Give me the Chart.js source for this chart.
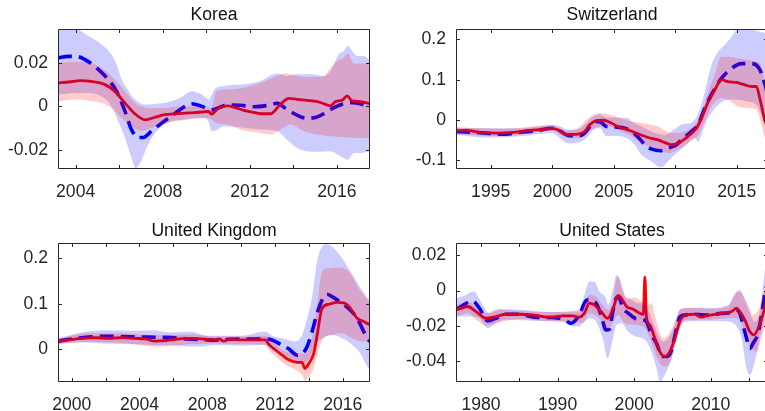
<!DOCTYPE html>
<html>
<head>
<meta charset="utf-8">
<script src="https://cdn.jsdelivr.net/npm/chart.js@4/dist/chart.umd.min.js"></script>
<style>
  html, body { margin: 0; padding: 0; background: #fff; }
  #page { position: relative; width: 765px; height: 411px; overflow: hidden; background: #fff; }
  #page canvas { position: absolute; }
</style>
</head>
<body>
<div id="page">
  <canvas id="korea" width="380" height="205" style="left:0px;top:0px;width:380px;height:205px"></canvas>
  <canvas id="swiss" width="395" height="205" style="left:385px;top:0px;width:395px;height:205px"></canvas>
  <canvas id="uk" width="380" height="201" style="left:0px;top:210px;width:380px;height:201px"></canvas>
  <canvas id="us" width="395" height="201" style="left:385px;top:210px;width:395px;height:201px"></canvas>
</div>
<script>
// ---------- Korea ----------
const koreaFitted = [[2003.19,0.0108],[2003.7,0.0112],[2004.2,0.0118],[2004.7,0.0115],[2005.35,0.0100],[2005.8,0.0069],[2006.27,0.0015],[2006.73,-0.0035],[2007.2,-0.0062],[2007.65,-0.0050],[2008.1,-0.0038],[2008.56,-0.0035],[2009.2,-0.0030],[2009.8,-0.0026],[2010.1,-0.0023],[2010.25,-0.0036],[2010.5,-0.0014],[2010.96,0.0002],[2011.34,-0.0006],[2011.72,-0.0018],[2012.1,-0.0026],[2012.5,-0.0034],[2012.95,-0.0034],[2013.4,0.0009],[2013.8,0.0037],[2014.17,0.0032],[2014.63,0.0028],[2015.1,0.0022],[2015.48,0.0009],[2015.7,0.0002],[2015.94,0.0022],[2016.24,0.0028],[2016.47,0.0048],[2016.7,0.0025],[2017.08,0.0022],[2017.52,0.0012]];
const koreaFittedUpper = [[2003.19,0.0200],[2004.0,0.0205],[2004.58,0.0200],[2005.19,0.0177],[2005.8,0.0123],[2006.27,0.0069],[2006.73,0.0015],[2007.19,-0.0005],[2007.64,-0.0008],[2008.26,-0.0005],[2008.87,0.0],[2009.48,0.0],[2010.1,-0.0005],[2010.25,-0.0008],[2010.45,0.0068],[2010.96,0.0078],[2011.72,0.0086],[2012.49,0.0109],[2013.26,0.0140],[2013.64,0.0151],[2014.17,0.0140],[2014.79,0.0135],[2015.4,0.0140],[2015.71,0.0178],[2016.01,0.0209],[2016.32,0.0225],[2016.5,0.0243],[2016.78,0.0197],[2017.24,0.0197],[2017.52,0.0186]];
const koreaFittedLower = [[2003.19,0.0023],[2004.0,0.0031],[2004.58,0.0026],[2005.19,0.0015],[2005.65,-0.0008],[2006.11,-0.0054],[2006.57,-0.0092],[2007.03,-0.0115],[2007.49,-0.0100],[2007.95,-0.0085],[2008.56,-0.0069],[2009.17,-0.0062],[2009.79,-0.0054],[2010.25,-0.0060],[2010.4,-0.0075],[2010.96,-0.0083],[2011.72,-0.0111],[2012.49,-0.0122],[2012.95,-0.0129],[2013.41,-0.0106],[2013.87,-0.0083],[2014.48,-0.0114],[2015.1,-0.0129],[2015.71,-0.0137],[2016.32,-0.0142],[2016.93,-0.0145],[2017.52,-0.0145]];
const koreaModel = [[2003.19,0.0223],[2003.66,0.0230],[2004.0,0.0230],[2004.43,0.0215],[2004.96,0.0177],[2005.5,0.0123],[2005.88,0.0069],[2006.27,-0.0023],[2006.57,-0.0108],[2006.88,-0.0143],[2007.1,-0.0143],[2007.5,-0.0112],[2007.95,-0.0077],[2008.49,-0.0038],[2009.02,0.0],[2009.33,0.0012],[2009.8,0.0],[2010.25,-0.0016],[2010.96,0.0006],[2011.57,0.0005],[2012.18,-0.0002],[2012.87,0.0005],[2013.26,0.0014],[2013.64,-0.0009],[2014.1,-0.0037],[2014.63,-0.0055],[2015.09,-0.0049],[2015.48,-0.0029],[2015.86,-0.0006],[2016.32,0.0012],[2016.78,0.0017],[2017.16,0.0009],[2017.52,-0.0006]];
const koreaModelUpper = [[2003.19,0.0354],[2004.0,0.0354],[2004.58,0.0323],[2005.19,0.0285],[2005.65,0.0238],[2005.88,0.0192],[2006.11,0.0123],[2006.34,0.0085],[2006.73,0.0031],[2007.19,0.0008],[2007.64,0.0011],[2008.26,0.0020],[2008.87,0.0042],[2009.33,0.0069],[2009.79,0.0054],[2010.1,0.0031],[2010.4,0.0080],[2010.8,0.0094],[2011.72,0.0102],[2012.49,0.0117],[2013.26,0.0151],[2013.7,0.0140],[2014.17,0.0148],[2014.8,0.0148],[2015.4,0.0140],[2015.71,0.0163],[2016.09,0.0240],[2016.32,0.0255],[2016.5,0.0278],[2016.7,0.0255],[2016.93,0.0232],[2017.24,0.0232],[2017.52,0.0210]];
const koreaModelLower = [[2003.19,0.0054],[2004.0,0.0062],[2004.58,0.0062],[2005.19,0.0046],[2005.65,0.0],[2005.96,-0.0069],[2006.27,-0.0146],[2006.57,-0.0238],[2006.76,-0.0285],[2006.96,-0.0262],[2007.19,-0.0208],[2007.49,-0.0146],[2007.95,-0.0092],[2008.41,-0.0069],[2008.87,-0.0062],[2009.48,-0.0054],[2009.94,-0.0054],[2010.1,-0.0070],[2010.25,-0.0115],[2010.45,-0.0110],[2010.8,-0.0091],[2011.72,-0.0098],[2012.5,-0.0106],[2013.26,-0.0114],[2013.7,-0.0152],[2014.17,-0.0191],[2014.63,-0.0206],[2015.25,-0.0209],[2015.7,-0.0206],[2016.17,-0.0229],[2016.5,-0.0245],[2016.78,-0.0214],[2017.08,-0.0214],[2017.52,-0.0206]];
const koreaXTicks = [2004, 2006, 2008, 2010, 2012, 2014, 2016];
const koreaXLabels = [2004, 2008, 2012, 2016];
const koreaYTicks = [-0.02, 0, 0.02];

// ---------- Switzerland ----------
const swissFitted = [[1992.18,-0.027],[1993.02,-0.026],[1994.11,-0.031],[1995.46,-0.033],[1996.82,-0.031],[1998.17,-0.026],[1999.25,-0.024],[2000.0,-0.021],[2000.47,-0.025],[2001.15,-0.036],[2001.83,-0.036],[2002.64,-0.029],[2003.05,-0.012],[2003.59,-0.002],[2004.13,-0.001],[2004.54,-0.004],[2005.35,-0.0165],[2006.17,-0.025],[2006.98,-0.035],[2007.79,-0.044],[2008.6,-0.050],[2009.28,-0.058],[2009.69,-0.062],[2010.23,-0.058],[2011.04,-0.041],[2011.72,-0.021],[2012.13,0.004],[2012.67,0.044],[2013.21,0.074],[2013.75,0.100],[2014.3,0.095],[2014.97,0.093],[2015.65,0.087],[2016.19,0.083],[2016.6,0.083],[2016.87,0.054],[2017.14,0.017],[2017.3,-0.004],[2017.54,-0.020]];
const swissFittedUpper = [[1992.18,-0.019],[1996.0,-0.022],[1999.99,-0.014],[2001.15,-0.027],[2002.24,-0.017],[2002.91,0.004],[2003.86,0.017],[2004.81,0.012],[2005.89,0.0],[2007.25,-0.008],[2008.6,-0.0165],[2009.69,-0.033],[2010.77,-0.029],[2011.59,-0.012],[2012.13,0.0165],[2012.67,0.070],[2013.21,0.112],[2013.75,0.157],[2014.3,0.157],[2015.11,0.153],[2015.92,0.149],[2016.46,0.145],[2016.87,0.141],[2017.3,0.095],[2017.54,0.060]];
const swissFittedLower = [[1992.18,-0.036],[1996.0,-0.041],[1999.99,-0.027],[2001.15,-0.044],[2002.24,-0.045],[2003.05,-0.027],[2003.86,-0.017],[2004.54,-0.0165],[2005.62,-0.029],[2006.71,-0.045],[2007.52,-0.062],[2008.6,-0.074],[2009.42,-0.083],[2010.23,-0.074],[2011.04,-0.058],[2011.86,-0.037],[2012.4,-0.004],[2012.94,0.033],[2013.75,0.054],[2014.3,0.050],[2015.11,0.033],[2015.92,0.029],[2016.6,0.025],[2017.01,-0.012],[2017.3,-0.045],[2017.54,-0.070]];
const swissModel = [[1992.18,-0.029],[1993.56,-0.031],[1994.65,-0.033],[1996.0,-0.036],[1997.36,-0.031],[1998.71,-0.027],[1999.99,-0.021],[2000.61,-0.027],[2001.29,-0.039],[2002.1,-0.040],[2002.64,-0.033],[2003.18,-0.012],[2003.59,-0.004],[2004.0,-0.007],[2004.4,-0.0165],[2005.35,-0.018],[2006.44,-0.028],[2007.1,-0.047],[2007.6,-0.064],[2008.1,-0.073],[2008.8,-0.077],[2009.4,-0.070],[2010.0,-0.064],[2010.5,-0.050],[2011.31,-0.029],[2011.86,-0.012],[2012.4,0.029],[2013.08,0.070],[2013.75,0.103],[2014.57,0.128],[2015.38,0.140],[2016.19,0.140],[2016.73,0.132],[2017.06,0.112],[2017.3,0.087],[2017.54,0.060]];
const swissModelUpper = [[1992.18,-0.019],[1994.65,-0.021],[1997.36,-0.021],[1999.99,-0.012],[2000.61,-0.016],[2001.42,-0.025],[2002.24,-0.022],[2002.78,-0.008],[2003.32,0.008],[2003.86,0.014],[2004.4,0.006],[2005.35,0.006],[2006.17,0.004],[2006.44,-0.004],[2007.25,-0.016],[2008.06,-0.029],[2009.15,-0.037],[2009.69,-0.029],[2010.5,-0.012],[2011.45,-0.004],[2011.99,0.025],[2012.4,0.070],[2012.94,0.136],[2013.48,0.169],[2014.02,0.186],[2014.57,0.207],[2014.97,0.223],[2015.65,0.226],[2016.46,0.223],[2016.87,0.219],[2017.3,0.215],[2017.54,0.200]];
const swissModelLower = [[1992.18,-0.037],[1994.65,-0.044],[1997.36,-0.041],[1999.99,-0.033],[2000.61,-0.045],[2001.29,-0.058],[2002.24,-0.055],[2002.78,-0.045],[2003.32,-0.025],[2003.86,-0.021],[2004.4,-0.041],[2004.67,-0.040],[2005.62,-0.041],[2006.71,-0.062],[2007.25,-0.087],[2008.06,-0.103],[2008.6,-0.116],[2008.88,-0.118],[2009.42,-0.103],[2009.96,-0.087],[2010.77,-0.066],[2011.59,-0.045],[2011.86,-0.054],[2012.26,-0.025],[2012.67,0.004],[2013.48,0.037],[2014.3,0.050],[2015.11,0.050],[2015.92,0.045],[2016.6,0.037],[2017.01,0.012],[2017.3,-0.012],[2017.54,-0.030]];
const swissXTicks = [1995, 2000, 2005, 2010, 2015];
const swissXLabels = [1995, 2000, 2005, 2010, 2015];
const swissYTicks = [-0.1, 0, 0.1, 0.2];

// ---------- United Kingdom ----------
const ukFitted = [[1999.19,0.018],[1999.8,0.0205],[2000.59,0.024],[2001.38,0.0256],[2002.17,0.024],[2002.95,0.0256],[2003.74,0.024],[2004.33,0.0227],[2004.92,0.018],[2005.51,0.019],[2006.1,0.022],[2006.89,0.024],[2007.68,0.0227],[2008.43,0.0205],[2008.68,0.0227],[2008.98,0.018],[2009.27,0.022],[2010.06,0.0205],[2010.85,0.0205],[2011.44,0.0205],[2011.63,0.011],[2012.03,-0.0015],[2012.42,-0.0125],[2012.81,-0.023],[2013.31,-0.0286],[2013.6,-0.0286],[2013.76,-0.042],[2014.0,-0.031],[2014.29,-0.009],[2014.49,0.0315],[2014.78,0.090],[2015.18,0.099],[2015.67,0.103],[2016.06,0.102],[2016.46,0.090],[2016.85,0.068],[2017.24,0.061],[2017.61,0.0535]];
const ukFittedUpper = [[1999.19,0.0227],[2000.98,0.035],[2002.95,0.035],[2004.92,0.031],[2006.89,0.033],[2008.43,0.028],[2010.06,0.028],[2011.44,0.030],[2011.83,0.020],[2012.42,-0.0015],[2013.21,-0.009],[2013.8,-0.009],[2014.19,0.024],[2014.49,0.0975],[2014.78,0.171],[2015.18,0.178],[2015.77,0.180],[2016.36,0.171],[2016.95,0.134],[2017.34,0.115],[2017.61,0.110]];
const ukFittedLower = [[1999.19,0.013],[2000.98,0.0154],[2002.95,0.014],[2004.92,0.006],[2005.51,0.006],[2006.89,0.011],[2008.43,0.013],[2010.06,0.011],[2011.44,0.0095],[2011.63,-0.0015],[2012.03,-0.016],[2012.62,-0.034],[2013.21,-0.045],[2013.6,-0.056],[2013.8,-0.070],[2014.0,-0.060],[2014.29,-0.042],[2014.59,0.002],[2014.88,0.024],[2015.37,0.0315],[2015.96,0.035],[2016.56,0.024],[2017.15,0.017],[2017.61,0.0205]];
const ukModel = [[1999.19,0.018],[2000.0,0.0227],[2000.98,0.027],[2001.97,0.0286],[2002.95,0.028],[2003.94,0.027],[2004.92,0.0264],[2005.91,0.0256],[2006.89,0.0227],[2007.87,0.0212],[2008.43,0.020],[2009.27,0.022],[2010.45,0.0227],[2011.54,0.0227],[2011.83,0.0205],[2012.32,0.011],[2012.81,0.001],[2013.31,-0.013],[2013.6,-0.010],[2013.9,0.006],[2014.19,0.039],[2014.49,0.079],[2014.78,0.108],[2015.08,0.121],[2015.47,0.1135],[2015.96,0.101],[2016.46,0.086],[2016.85,0.068],[2017.15,0.046],[2017.38,0.028],[2017.61,0.017]];
const ukModelUpper = [[1999.19,0.024],[2000.59,0.037],[2001.97,0.042],[2003.94,0.041],[2004.72,0.042],[2005.91,0.037],[2006.89,0.039],[2007.87,0.031],[2008.43,0.030],[2010.06,0.030],[2011.44,0.039],[2011.83,0.030],[2012.42,0.024],[2013.21,0.017],[2013.6,0.0315],[2013.9,0.068],[2014.19,0.115],[2014.49,0.193],[2014.78,0.226],[2015.08,0.231],[2015.47,0.222],[2015.96,0.200],[2016.46,0.171],[2016.95,0.141],[2017.34,0.119],[2017.61,0.101]];
const ukModelLower = [[1999.19,0.011],[2000.59,0.0154],[2001.97,0.013],[2003.94,0.011],[2004.92,0.0095],[2005.91,0.0095],[2006.89,0.006],[2007.68,0.006],[2008.43,0.0095],[2010.06,0.008],[2011.44,0.0095],[2011.83,0.002],[2012.42,-0.009],[2013.01,-0.0235],[2013.6,-0.033],[2014.0,-0.023],[2014.39,0.0095],[2014.78,0.024],[2015.37,0.0315],[2015.96,0.024],[2016.56,0.0095],[2017.05,-0.009],[2017.34,-0.031],[2017.61,-0.047]];
const ukXTicks = [2000, 2002, 2004, 2006, 2008, 2010, 2012, 2014, 2016];
const ukXLabels = [2000, 2004, 2008, 2012, 2016];
const ukYTicks = [0, 0.1, 0.2];

// ---------- United States ----------
const usFitted = [[1976.73,-0.011],[1977.5,-0.0100],[1978.26,-0.0091],[1979.35,-0.012],[1980.65,-0.0158],[1981.96,-0.0148],[1983.27,-0.0135],[1985.0,-0.0135],[1987.18,-0.0142],[1988.92,-0.0152],[1990.67,-0.0144],[1991.97,-0.0144],[1992.84,-0.0152],[1993.5,-0.0129],[1994.15,-0.0072],[1994.8,-0.0082],[1995.67,-0.012],[1996.54,-0.0158],[1997.26,-0.0101],[1997.91,-0.0028],[1998.35,-0.0044],[1999.0,-0.0091],[1999.87,-0.0106],[2000.74,-0.0129],[2001.2,-0.0135],[2001.4,0.0078],[2001.6,-0.0150],[2002.05,-0.0196],[2002.7,-0.0272],[2003.35,-0.0348],[2004.0,-0.0376],[2004.66,-0.0348],[2005.31,-0.0272],[2005.96,-0.0177],[2006.62,-0.0142],[2007.92,-0.0135],[2008.79,-0.0152],[2009.66,-0.0142],[2011.41,-0.0129],[2012.71,-0.012],[2013.37,-0.0101],[2013.8,-0.012],[2014.45,-0.0167],[2015.11,-0.0234],[2015.63,-0.0253],[2016.2,-0.0215],[2016.72,-0.0150],[2017.11,-0.0090],[2017.48,-0.0040]];
const usFittedUpper = [[1976.73,-0.0082],[1978.26,-0.0063],[1979.35,-0.0091],[1980.65,-0.013],[1981.96,-0.011],[1985.0,-0.0116],[1989.36,-0.0123],[1991.97,-0.0116],[1993.28,-0.0091],[1994.15,-0.0025],[1995.02,-0.0034],[1995.89,-0.0082],[1996.6,-0.011],[1997.26,-0.0044],[1997.82,0.008],[1998.35,0.0013],[1999.0,-0.0044],[2000.09,-0.004],[2000.96,-0.0063],[2001.61,-0.009],[2002.26,-0.0072],[2002.92,-0.0177],[2003.79,-0.0272],[2004.44,-0.0253],[2005.31,-0.0177],[2005.96,-0.011],[2007.05,-0.010],[2009.66,-0.0104],[2012.28,-0.009],[2013.37,-0.0006],[2014.02,-0.0015],[2014.89,-0.0082],[2015.54,-0.0139],[2016.2,-0.011],[2016.85,-0.0025],[2017.11,0.0013],[2017.48,0.006]];
const usFittedLower = [[1976.73,-0.0148],[1978.26,-0.0129],[1979.35,-0.0167],[1980.65,-0.020],[1981.96,-0.0186],[1985.0,-0.0162],[1989.36,-0.0177],[1991.97,-0.0181],[1993.28,-0.0186],[1994.15,-0.0129],[1995.45,-0.0158],[1996.6,-0.0234],[1997.26,-0.0177],[1997.91,-0.0139],[1998.78,-0.0186],[2000.09,-0.0196],[2001.18,-0.0205],[2002.05,-0.0272],[2002.92,-0.0376],[2003.79,-0.0433],[2004.66,-0.0414],[2005.53,-0.0291],[2006.18,-0.0192],[2007.05,-0.0167],[2009.66,-0.0167],[2012.28,-0.0158],[2013.58,-0.0158],[2014.45,-0.0234],[2015.32,-0.0329],[2015.98,-0.0348],[2016.63,-0.0272],[2017.11,-0.0196],[2017.48,-0.012]];
const usModel = [[1976.73,-0.011],[1977.6,-0.0085],[1978.48,-0.0063],[1978.91,-0.0060],[1979.78,-0.010],[1980.87,-0.0173],[1981.96,-0.0158],[1983.27,-0.0135],[1985.0,-0.0135],[1987.18,-0.0154],[1988.92,-0.0154],[1990.23,-0.0158],[1990.88,-0.0166],[1991.75,-0.0186],[1992.84,-0.0139],[1993.5,-0.0072],[1993.93,-0.0053],[1995.02,-0.0072],[1995.67,-0.0139],[1996.33,-0.0224],[1996.76,-0.0220],[1997.13,-0.0139],[1997.56,-0.0053],[1997.91,-0.0034],[1998.56,-0.0101],[1999.22,-0.0129],[2000.09,-0.0158],[2001.0,-0.0165],[2001.61,-0.0177],[2002.26,-0.0253],[2002.92,-0.0300],[2003.35,-0.0350],[2003.8,-0.0376],[2004.3,-0.0376],[2004.8,-0.0350],[2005.31,-0.0260],[2005.96,-0.0150],[2006.62,-0.0139],[2007.92,-0.0135],[2009.66,-0.0140],[2011.41,-0.0130],[2012.71,-0.0125],[2013.37,-0.0110],[2013.8,-0.0130],[2014.24,-0.0200],[2014.67,-0.0270],[2015.11,-0.0330],[2015.54,-0.0300],[2016.2,-0.0240],[2016.63,-0.0140],[2016.85,-0.0080],[2017.11,-0.0006],[2017.48,0.0040]];
const usModelUpper = [[1976.73,-0.0044],[1978.04,-0.0025],[1978.91,-0.0006],[1979.35,-0.0015],[1980.22,-0.0082],[1981.09,-0.013],[1982.39,-0.0105],[1985.0,-0.011],[1989.36,-0.0123],[1991.54,-0.0120],[1992.84,-0.012],[1993.5,-0.0025],[1994.15,0.0051],[1994.8,0.0051],[1995.45,-0.0006],[1996.33,-0.0044],[1996.6,-0.0082],[1997.26,0.0013],[1997.69,0.0089],[1998.13,0.0070],[1998.78,-0.0025],[1999.65,-0.0053],[2000.52,-0.0072],[2001.18,-0.0072],[2001.61,-0.010],[2002.26,-0.0158],[2003.13,-0.0253],[2003.79,-0.029],[2004.44,-0.0272],[2005.31,-0.0196],[2005.96,-0.011],[2007.05,-0.010],[2009.66,-0.010],[2012.28,-0.0082],[2013.15,-0.0025],[2013.8,0.0004],[2014.45,-0.0053],[2015.11,-0.0129],[2015.76,-0.0177],[2016.41,-0.012],[2016.85,0.0032],[2017.11,0.0127],[2017.48,0.022]];
const usModelLower = [[1976.73,-0.0148],[1978.48,-0.0148],[1979.78,-0.0158],[1980.87,-0.0215],[1981.96,-0.0186],[1983.27,-0.0167],[1987.18,-0.0173],[1990.67,-0.0177],[1991.97,-0.0205],[1992.84,-0.0205],[1993.5,-0.0177],[1994.15,-0.0158],[1995.02,-0.0177],[1995.89,-0.0272],[1996.54,-0.0386],[1997.04,-0.031],[1997.69,-0.0196],[1998.35,-0.0186],[1999.22,-0.0234],[2000.09,-0.026],[2000.96,-0.027],[2001.61,-0.029],[2002.26,-0.0348],[2002.92,-0.0443],[2003.35,-0.0519],[2004.0,-0.048],[2004.88,-0.0386],[2005.53,-0.027],[2006.18,-0.0196],[2007.05,-0.0177],[2009.66,-0.0173],[2012.28,-0.0177],[2013.37,-0.0205],[2014.02,-0.027],[2014.67,-0.0443],[2015.11,-0.048],[2015.76,-0.0405],[2016.41,-0.027],[2016.85,-0.0196],[2017.11,-0.0139],[2017.48,-0.008]];
const usXTicks = [1980, 1985, 1990, 1995, 2000, 2005, 2010, 2015];
const usXLabels = [1980, 1990, 2000, 2010];
const usYTicks = [-0.04, -0.02, 0, 0.02];

// ---------- drawing ----------
Chart.defaults.font.family = "'Liberation Sans', Arial, Helvetica, sans-serif";
Chart.defaults.font.size = 17.6;
Chart.defaults.color = '#262626';

const FONT = { size: 17.6, weight: 'normal' };
const TICK_LEN = 3.5;
const AXIS_COLOR = '#262626';

// MATLAB-style box with inward tick marks on all four sides
const boxFrame = {
  id: 'boxFrame',
  afterDraw(chart) {
    const { ctx, chartArea: a, scales: { x, y } } = chart;
    ctx.save();
    ctx.strokeStyle = AXIS_COLOR;
    ctx.lineWidth = 1;
    ctx.beginPath();
    const L = Math.round(a.left) + 0.5, R = Math.round(a.right) - 0.5;
    const T = Math.round(a.top) + 0.5, B = Math.round(a.bottom) - 0.5;
    x.ticks.forEach(t => {
      const px = Math.round(x.getPixelForValue(t.value)) + 0.5;
      ctx.moveTo(px, B); ctx.lineTo(px, B - TICK_LEN);
      ctx.moveTo(px, T); ctx.lineTo(px, T + TICK_LEN);
    });
    y.ticks.forEach(t => {
      const py = Math.round(y.getPixelForValue(t.value)) + 0.5;
      ctx.moveTo(L, py); ctx.lineTo(L + TICK_LEN, py);
      ctx.moveTo(R, py); ctx.lineTo(R - TICK_LEN, py);
    });
    ctx.rect(L, T, R - L, B - T);
    ctx.stroke();
    ctx.restore();
  }
};

const pts = arr => arr.map(([x, y]) => ({ x, y }));

function drawPanel(id, p) {
  const bandEdge = { borderWidth: 0, borderColor: 'rgba(0,0,0,0)', pointRadius: 0 };
  new Chart(document.getElementById(id), {
    type: 'line',
    data: {
      datasets: [
        { label: 'fitted upper', data: pts(p.fittedUpper), fill: { target: 1 }, backgroundColor: 'rgba(255,0,0,0.2)', order: 0, ...bandEdge },
        { label: 'fitted lower', data: pts(p.fittedLower), fill: false, order: 0, ...bandEdge },
        { label: 'model upper', data: pts(p.modelUpper), fill: { target: 3 }, backgroundColor: 'rgba(0,0,255,0.2)', order: 1, ...bandEdge },
        { label: 'model lower', data: pts(p.modelLower), fill: false, order: 1, ...bandEdge },
        { label: 'fitted', data: pts(p.fitted), borderColor: '#ff0000', borderWidth: 2.8, fill: false, order: 2, pointRadius: 0, clip: 0 },
        { label: 'model', data: pts(p.model), borderColor: '#0000ff', borderWidth: 3.6, borderDash: [14, 7], borderCapStyle: 'butt', fill: false, order: 3, pointRadius: 0, clip: 0 }
      ]
    },
    options: {
      responsive: false,
      devicePixelRatio: 1,
      animation: false,
      events: [],
      elements: { line: { cubicInterpolationMode: 'monotone', borderJoinStyle: 'round' } },
      layout: { padding: { left: 0, top: 0, bottom: 0, right: p.padRight } },
      plugins: {
        legend: { display: false },
        tooltip: { enabled: false },
        title: {
          display: true, text: p.title, fullSize: false, color: '#111',
          font: FONT, padding: { top: p.titleTop, bottom: p.titleBottom }
        }
      },
      scales: {
        x: {
          type: 'linear', min: p.xMin, max: p.xMax, bounds: 'data',
          grid: { display: false, drawTicks: false }, border: { display: false },
          afterBuildTicks: s => { s.ticks = p.xTicks.map(v => ({ value: v })); },
          afterFit: s => { s.height = p.xAxisHeight; },
          ticks: {
            autoSkip: false, maxRotation: 0, minRotation: 0, padding: 12.8, color: AXIS_COLOR, font: FONT,
            callback: v => (p.xLabels.includes(v) ? String(v) : '')
          }
        },
        y: {
          type: 'linear', min: p.yMin, max: p.yMax, bounds: 'data',
          grid: { display: false, drawTicks: false }, border: { display: false },
          afterBuildTicks: s => { s.ticks = p.yTicks.map(v => ({ value: v })); },
          afterFit: s => { s.width = p.yAxisWidth; },
          ticks: { autoSkip: false, padding: 10, color: AXIS_COLOR, font: FONT, callback: v => String(v) }
        }
      }
    },
    plugins: [boxFrame]
  });
}

const topRow = { titleTop: 4.8, titleBottom: 2.58, xAxisHeight: 36 };
const bottomRow = { titleTop: 10.3, titleBottom: 1.88, xAxisHeight: 29 };
const leftCol = { yAxisWidth: 58, padRight: 10 };
const rightCol = { yAxisWidth: 71, padRight: 12 };

drawPanel('korea', { ...topRow, ...leftCol, title: 'Korea',
  fitted: koreaFitted, fittedUpper: koreaFittedUpper, fittedLower: koreaFittedLower,
  model: koreaModel, modelUpper: koreaModelUpper, modelLower: koreaModelLower,
  xMin: 2003.19, xMax: 2017.52, yMin: -0.0288, yMax: 0.0358,
  xTicks: koreaXTicks, xLabels: koreaXLabels, yTicks: koreaYTicks });

drawPanel('swiss', { ...topRow, ...rightCol, title: 'Switzerland',
  fitted: swissFitted, fittedUpper: swissFittedUpper, fittedLower: swissFittedLower,
  model: swissModel, modelUpper: swissModelUpper, modelLower: swissModelLower,
  xMin: 1992.18, xMax: 2017.54, yMin: -0.1223, yMax: 0.2273,
  xTicks: swissXTicks, xLabels: swissXLabels, yTicks: swissYTicks });

drawPanel('uk', { ...bottomRow, ...leftCol, title: 'United Kingdom',
  fitted: ukFitted, fittedUpper: ukFittedUpper, fittedLower: ukFittedLower,
  model: ukModel, modelUpper: ukModelUpper, modelLower: ukModelLower,
  xMin: 1999.19, xMax: 2017.61, yMin: -0.0719, yMax: 0.233,
  xTicks: ukXTicks, xLabels: ukXLabels, yTicks: ukYTicks });

drawPanel('us', { ...bottomRow, ...rightCol, title: 'United States',
  fitted: usFitted, fittedUpper: usFittedUpper, fittedLower: usFittedLower,
  model: usModel, modelUpper: usModelUpper, modelLower: usModelLower,
  xMin: 1976.73, xMax: 2017.48, yMin: -0.0521, yMax: 0.0269,
  xTicks: usXTicks, xLabels: usXLabels, yTicks: usYTicks });
</script>
</body>
</html>
